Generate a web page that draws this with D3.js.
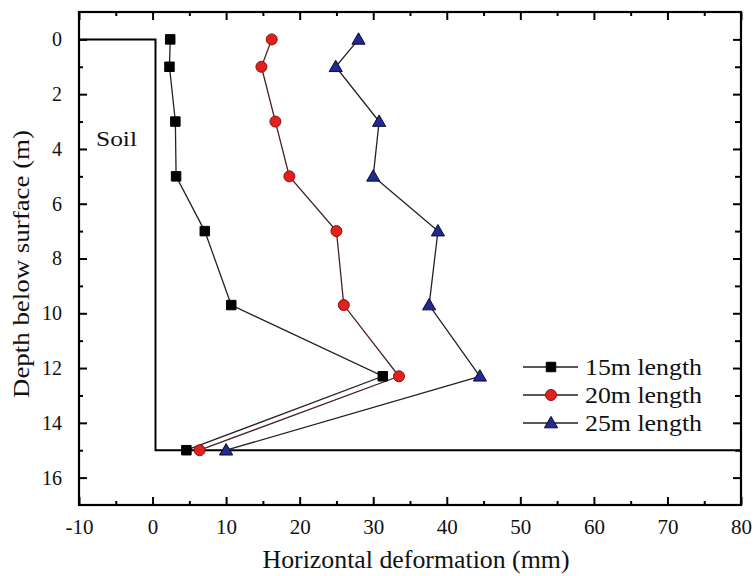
<!DOCTYPE html>
<html><head><meta charset="utf-8">
<script src="https://cdn.jsdelivr.net/npm/d3@7"></script>
<style>body{margin:0;background:#fff}svg{display:block}</style>
</head><body><svg id="c" width="754" height="576"></svg>
<script>
const depths = [0, 1, 3, 5, 7, 9.7, 12.3, 15];
const s15 = [2.4, 2.3, 3.1, 3.2, 7.1, 10.7, 31.3, 4.6];
const s20 = [16.2, 14.8, 16.7, 18.6, 25.0, 26.0, 33.5, 6.4];
const s25 = [28.0, 24.9, 30.8, 30.0, 38.8, 37.6, 44.5, 10.0];
const seriesNames = ["15m length", "20m length", "25m length"];
const xTicks = [-10, 0, 10, 20, 30, 40, 50, 60, 70, 80];
const yTicks = [0, 2, 4, 6, 8, 10, 12, 14, 16];
const wallX = 0.4, wallDepth = 15;

const FONT = "'Liberation Serif', 'Times New Roman', Times, 'DejaVu Serif', serif";
const svg = d3.select("#c");
const L = 79, R = 741, T = 12, B = 505;
const x = d3.scaleLinear().domain([-10, 80]).range([L, R]);
const y = d3.scaleLinear().domain([-1, 17]).range([T, B]);

const xMinor = d3.range(-5, 80, 10);
const yMinor = d3.range(1, 17, 2);
const fmt = d => String(d);

function axisStyle(g){ g.select(".domain").remove(); g.selectAll("line").attr("stroke","#000").attr("stroke-width",2); g.attr("font-family", FONT); }

svg.append("g").attr("transform",`translate(0,${B})`).call(d3.axisBottom(x).tickValues(xTicks).tickSize(-8).tickPadding(14).tickFormat(fmt))
  .call(axisStyle).call(g=>g.selectAll("text").attr("font-size",21).attr("fill","#111").attr("font-family",FONT));
svg.append("g").attr("transform",`translate(0,${B})`).call(d3.axisBottom(x).tickValues(xMinor).tickSize(-4).tickFormat(""))
  .call(axisStyle);
svg.append("g").attr("transform",`translate(0,${T})`).call(d3.axisTop(x).tickValues(xTicks).tickSize(-8).tickFormat(""))
  .call(axisStyle);
svg.append("g").attr("transform",`translate(0,${T})`).call(d3.axisTop(x).tickValues(xMinor).tickSize(-4).tickFormat(""))
  .call(axisStyle);
svg.append("g").attr("transform",`translate(${L},0)`).call(d3.axisLeft(y).tickValues(yTicks).tickSize(-8).tickPadding(17).tickFormat(fmt))
  .call(axisStyle).call(g=>g.selectAll("text").attr("font-size",20).attr("fill","#111").attr("font-family",FONT));
svg.append("g").attr("transform",`translate(${L},0)`).call(d3.axisLeft(y).tickValues(yMinor).tickSize(-4).tickFormat(""))
  .call(axisStyle);
svg.append("g").attr("transform",`translate(${R},0)`).call(d3.axisRight(y).tickValues(yTicks).tickSize(-8).tickFormat(""))
  .call(axisStyle);
svg.append("g").attr("transform",`translate(${R},0)`).call(d3.axisRight(y).tickValues(yMinor).tickSize(-6).tickFormat(""))
  .call(axisStyle);

svg.append("rect").attr("x",L).attr("y",T).attr("width",R-L).attr("height",B-T)
  .attr("fill","none").attr("stroke","#000").attr("stroke-width",2.2);

svg.append("path").attr("fill","none").attr("stroke","#000").attr("stroke-width",2)
  .attr("d", d3.line()([[x(-10), y(0)], [x(wallX), y(0)], [x(wallX), y(wallDepth)], [x(80), y(wallDepth)]]));

svg.append("text").attr("x",96).attr("y",146).attr("font-size",22).attr("font-family",FONT).attr("fill","#111")
  .attr("textLength",41).attr("lengthAdjust","spacingAndGlyphs").text("Soil");

const sym = [
  {type:d3.symbolSquare, size:90, fill:"#000", stroke:"#000", line:"#222"},
  {type:d3.symbolCircle, size:95, fill:"#e3201b", stroke:"#8a1010", line:"#4a2020"},
  {type:d3.symbolTriangle, size:75, fill:"#1f2b8f", stroke:"#0a0a30", line:"#222"}
];
const allSeries = [s15, s20, s25];
const line = d3.line().x(d=>x(d[0])).y(d=>y(d[1]));

allSeries.forEach((s,i)=>{
  const pts = s.map((v,j)=>[v, depths[j]]);
  svg.append("path").attr("d", line(pts)).attr("fill","none").attr("stroke",sym[i].line).attr("stroke-width",1.3);
});
allSeries.forEach((s,i)=>{
  const pts = s.map((v,j)=>[v, depths[j]]);
  svg.append("g").selectAll("path").data(pts).join("path")
    .attr("d", d3.symbol().type(sym[i].type).size(sym[i].size))
    .attr("transform", d=>`translate(${x(d[0])},${y(d[1]) + (i===2?1:0)})`)
    .attr("fill", sym[i].fill).attr("stroke", sym[i].stroke).attr("stroke-width",1);
});

const lg = svg.append("g");
const rowY = [367, 395, 423];
seriesNames.forEach((n,i)=>{
  lg.append("line").attr("x1",523).attr("x2",578).attr("y1",rowY[i]).attr("y2",rowY[i]).attr("stroke","#222").attr("stroke-width",1.3);
  lg.append("path").attr("d", d3.symbol().type(sym[i].type).size(sym[i].size))
    .attr("transform",`translate(551,${rowY[i] + (i===2?1:0)})`)
    .attr("fill", sym[i].fill).attr("stroke", sym[i].stroke).attr("stroke-width",1);
  lg.append("text").attr("x",585).attr("y",rowY[i]+8).attr("font-size",23).attr("font-family",FONT).attr("fill","#111")
    .attr("textLength",117).attr("lengthAdjust","spacingAndGlyphs").text(n);
});

svg.append("text").attr("x",416).attr("y",568).attr("text-anchor","middle").attr("font-size",26).attr("font-family",FONT).attr("fill","#111")
  .attr("textLength",307).attr("lengthAdjust","spacingAndGlyphs").text("Horizontal deformation (mm)");
svg.append("text").attr("transform","translate(29,264) rotate(-90)").attr("text-anchor","middle").attr("font-size",24).attr("font-family",FONT).attr("fill","#111")
  .attr("textLength",268).attr("lengthAdjust","spacingAndGlyphs").text("Depth below surface (m)");
</script></body></html>
